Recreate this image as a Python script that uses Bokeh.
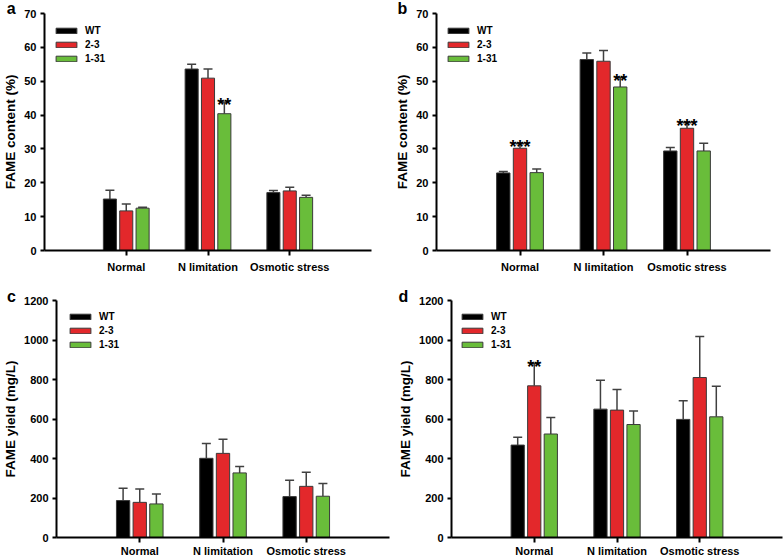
from bokeh.plotting import figure
from bokeh.models import (ColumnDataSource, Range1d, FixedTicker, SingleIntervalTicker,
                          Whisker, TeeHead, Label)
from bokeh.transform import dodge
from bokeh.layouts import row, column
from bokeh.core.properties import value
from bokeh.embed import file_html
from bokeh.resources import INLINE

# ---------------- data ----------------
categories = ["Normal", "N limitation", "Osmotic stress"]
series = ["WT", "2-3", "1-31"]
colors = ["#000000", "#e3282b", "#69bd3a"]

a_wt = [15.2, 53.6, 17.1]
a_wt_err = [2.6, 1.4, 0.6]
a_23 = [11.7, 50.9, 17.6]
a_23_err = [2.0, 2.7, 1.1]
a_131 = [12.5, 40.4, 15.7]
a_131_err = [0.3, 3.4, 0.6]
a_sig_wt = ["", "", ""]
a_sig_23 = ["", "", ""]
a_sig_131 = ["", "**", ""]

b_wt = [22.9, 56.4, 29.4]
b_wt_err = [0.4, 1.9, 1.0]
b_23 = [30.2, 55.9, 36.1]
b_23_err = [1.3, 3.2, 1.6]
b_131 = [23.0, 48.3, 29.4]
b_131_err = [1.1, 2.7, 2.3]
b_sig_wt = ["", "", ""]
b_sig_23 = ["***", "", "***"]
b_sig_131 = ["", "**", ""]

c_wt = [187, 401, 207]
c_wt_err = [62, 75, 83]
c_23 = [178, 426, 259]
c_23_err = [68, 71, 71]
c_131 = [170, 327, 209]
c_131_err = [50, 33, 64]
c_sig_wt = ["", "", ""]
c_sig_23 = ["", "", ""]
c_sig_131 = ["", "", ""]

d_wt = [468, 650, 598]
d_wt_err = [39, 146, 94]
d_23 = [768, 645, 810]
d_23_err = [112, 104, 208]
d_131 = [524, 572, 611]
d_131_err = [84, 69, 155]
d_sig_wt = ["", "", ""]
d_sig_23 = ["**", "", ""]
d_sig_131 = ["", "", ""]

FONT = value("Liberation Sans")
OFFSETS = [-0.2, 0.0, 0.2]
XMAX = 4


def make_panel(letter, ylabel, ymax, ystep, vals, errs, sigs,
               W, H, bl, br, bt, bb, leg_x, leg_top, xstand, let_x, let_base, let_side):
    p = figure(width=W, height=H, output_backend="svg", toolbar_location=None,
               x_range=Range1d(0, XMAX), y_range=Range1d(0, ymax),
               min_border_left=bl, min_border_right=br,
               min_border_top=bt, min_border_bottom=bb)
    p.outline_line_color = None
    p.xgrid.visible = False
    p.ygrid.visible = False
    p.background_fill_color = "white"
    p.border_fill_color = "white"

    xs = [i + 1 for i in range(len(categories))]
    for k, name in enumerate(series):
        src = ColumnDataSource(dict(
            x=xs, y=vals[k],
            hi=[v + e for v, e in zip(vals[k], errs[k])],
            sig=sigs[k]))
        p.vbar(x=dodge("x", OFFSETS[k], range=p.x_range), top="y", bottom=0,
               width=0.16, source=src, fill_color=colors[k],
               line_color="#3a3a3a", line_width=1, legend_label=name)
        wh = Whisker(source=src, base=dodge("x", OFFSETS[k], range=p.x_range),
                     upper="hi", lower="y", dimension="height",
                     line_color="#404040", line_width=1.5,
                     lower_head=None,
                     upper_head=TeeHead(size=9, line_color="#404040", line_width=1.5))
        p.add_layout(wh)
        p.text(x=dodge("x", OFFSETS[k], range=p.x_range), y="hi", text="sig",
               source=src, text_font=FONT, text_font_style="bold",
               text_font_size="18px", text_align="center",
               text_baseline="alphabetic", y_offset=3, text_color="#000000")

    # axes
    xa = p.xaxis[0]
    xa.ticker = FixedTicker(ticks=xs)
    xa.major_label_overrides = {x: c for x, c in zip(xs, categories)}
    xa.minor_tick_line_color = None
    xa.major_tick_out = 5
    xa.major_tick_in = 0
    xa.major_tick_line_width = 2
    xa.axis_line_width = 2
    xa.major_label_standoff = xstand
    xa.major_label_text_font = "Liberation Sans"
    xa.major_label_text_font_style = "bold"
    xa.major_label_text_font_size = "11px"
    xa.major_label_text_color = "#000000"

    ya = p.yaxis[0]
    ya.ticker = SingleIntervalTicker(interval=ystep, num_minor_ticks=0)
    ya.minor_tick_line_color = None
    ya.major_tick_out = 4
    ya.major_tick_in = 0
    ya.major_tick_line_width = 2
    ya.axis_line_width = 2
    ya.major_label_standoff = 4
    ya.major_label_text_font = "Liberation Sans"
    ya.major_label_text_font_style = "bold"
    ya.major_label_text_font_size = "11px"
    ya.major_label_text_color = "#000000"
    ya.axis_label = ylabel
    ya.axis_label_text_font = "Liberation Sans"
    ya.axis_label_text_font_style = "bold"
    ya.axis_label_text_font_size = "13.5px"
    ya.axis_label_text_color = "#000000"
    ya.axis_label_standoff = 3

    # legend (location = bottom-left corner, in px from frame bottom-left)
    frame_h = H - bt - bb
    frame_w = W - bl - br
    lg = p.legend[0]
    lg.glyph_width = 26
    lg.glyph_height = 7
    lg.label_height = 14
    lg.spacing = 0
    lg.padding = 0
    lg.margin = 0
    lg.label_standoff = 6
    lg.border_line_color = None
    lg.background_fill_alpha = 0
    lg.label_text_font = "Liberation Sans"
    lg.label_text_font_style = "bold"
    lg.label_text_font_size = "10px"
    lg.label_text_color = "#000000"
    lg.location = (leg_x, frame_h - leg_top - 14 * len(series))

    # panel letter, placed through the data scales, held in a side panel
    lx = (let_x - bl) / frame_w * XMAX
    ly = ymax + (bt - let_base) / frame_h * ymax
    p.add_layout(Label(x=lx, y=ly, text=letter, text_font="Liberation Sans",
                       text_font_style="bold", text_font_size="16px",
                       text_baseline="alphabetic", text_align="left",
                       text_color="#000000"), let_side)
    return p


pa = make_panel("a", "FAME content (%)", 70, 10,
                [a_wt, a_23, a_131], [a_wt_err, a_23_err, a_131_err],
                [a_sig_wt, a_sig_23, a_sig_131],
                392, 280, 42, 21, 13, 30, 9, 10, 5, 4, 8, "right")
pb = make_panel("b", "FAME content (%)", 70, 10,
                [b_wt, b_23, b_131], [b_wt_err, b_23_err, b_131_err],
                [b_sig_wt, b_sig_23, b_sig_131],
                392, 280, 44, 14, 13, 30, 9, 10, 5, 5, 8, "right")
pc = make_panel("c", "FAME yield (mg/L)", 1200, 200,
                [c_wt, c_23, c_131], [c_wt_err, c_23_err, c_131_err],
                [c_sig_wt, c_sig_23, c_sig_131],
                392, 279, 53, 3, 20, 21, 11, 10, 2, 3, 16, "above")
pd_ = make_panel("d", "FAME yield (mg/L)", 1200, 200,
                 [d_wt, d_23, d_131], [d_wt_err, d_23_err, d_131_err],
                 [d_sig_wt, d_sig_23, d_sig_131],
                 392, 279, 59, 2, 20, 21, 8, 10, 2, 6, 16, "above")

layout = column(row(pa, pb), row(pc, pd_))
open("out.html", "w").write(file_html(layout, INLINE))
